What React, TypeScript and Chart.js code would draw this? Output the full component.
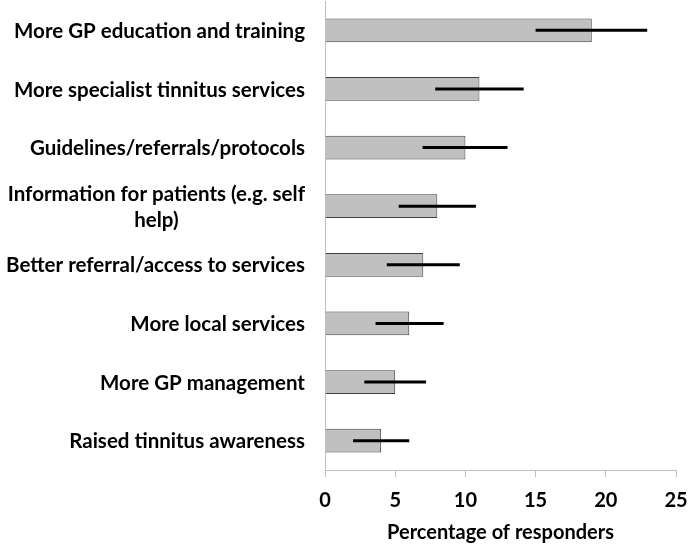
import React, { useEffect, useRef } from "react";
import { Chart, registerables } from "chart.js";

Chart.register(...registerables);

const categories: string[][] = [
  ["More GP education and training"],
  ["More specialist tinnitus services"],
  ["Guidelines/referrals/protocols"],
  ["Information for patients (e.g. self", "help)"],
  ["Better referral/access to services"],
  ["More local services"],
  ["More GP management"],
  ["Raised tinnitus awareness"],
];
const percentages: number[] = [19, 11, 10, 8, 7, 6, 5, 4];
const errorLow: number[] = [15.0, 7.85, 6.95, 5.25, 4.4, 3.6, 2.8, 2.0];
const errorHigh: number[] = [22.95, 14.15, 13.0, 10.75, 9.6, 8.45, 7.2, 6.0];
const xTicks: number[] = [0, 5, 10, 15, 20, 25];
const xTitle = "Percentage of responders";

const FONT = "Lato, 'Open Sans', sans-serif";

const errorBarPlugin = {
  id: "errorBars",
  afterDatasetsDraw(chart: any) {
    const meta = chart.getDatasetMeta(0);
    const xs = chart.scales.x;
    const ctx = chart.ctx;
    ctx.save();
    ctx.strokeStyle = "#000";
    ctx.lineWidth = 3;
    meta.data.forEach((bar: any, i: number) => {
      const x1 = xs.getPixelForValue(errorLow[i]);
      const x2 = xs.getPixelForValue(errorHigh[i]);
      ctx.beginPath();
      ctx.moveTo(x1, bar.y);
      ctx.lineTo(x2, bar.y);
      ctx.stroke();
    });
    ctx.restore();
  },
};

const categoryLabelPlugin = {
  id: "categoryLabels",
  afterDraw(chart: any) {
    const ys = chart.scales.y;
    const ctx = chart.ctx;
    const rightX = chart.chartArea.left - 20;
    const lineH = 25.5;
    ctx.save();
    ctx.font = `bold 20.5px ${FONT}`;
    ctx.fillStyle = "#000";
    ctx.textBaseline = "middle";
    categories.forEach((lines, i) => {
      const cy = ys.getPixelForValue(i);
      const firstW = ctx.measureText(lines[0]).width;
      const centerX = rightX - firstW / 2;
      lines.forEach((line, j) => {
        const y = cy + (j - (lines.length - 1) / 2) * lineH + 1;
        if (j === 0) {
          ctx.textAlign = "right";
          ctx.fillText(line, rightX, y);
        } else {
          ctx.textAlign = "center";
          ctx.fillText(line, centerX, y);
        }
      });
    });
    ctx.restore();
  },
};

export default function App() {
  const ref = useRef<HTMLCanvasElement>(null);
  useEffect(() => {
    document.body.style.margin = "0";
    const chart = new Chart(ref.current!, {
      type: "bar",
      data: {
        labels: categories.map((c) => c.join(" ")),
        datasets: [
          {
            data: percentages,
            backgroundColor: "#c0c0c0",
            borderColor: "#404040",
            borderWidth: 1,
            categoryPercentage: 1,
            barPercentage: 0.404,
          },
        ],
      },
      options: {
        indexAxis: "y",
        animation: false,
        responsive: false,
        maintainAspectRatio: false,
        layout: { padding: { top: 1, right: 12, bottom: 0, left: 0 } },
        plugins: { legend: { display: false }, tooltip: { enabled: false } },
        scales: {
          x: {
            min: 0,
            max: 25,
            afterBuildTicks: (s: any) => {
              s.ticks = xTicks.map((v) => ({ value: v }));
            },
            afterFit: (s: any) => {
              s.height = 75;
              s.paddingRight = 0;
              s.paddingLeft = 0;
            },
            grid: {
              drawOnChartArea: false,
              drawTicks: true,
              tickLength: 7,
              color: "#bfbfbf",
            },
            border: { display: true, color: "#bfbfbf", width: 1 },
            ticks: {
              color: "#000",
              padding: 12,
              font: { family: FONT, size: 20, weight: "bold" },
            },
            title: {
              display: true,
              text: xTitle,
              color: "#000",
              font: { family: FONT, size: 20, weight: "bold" },
              padding: { top: 0, bottom: 0 },
            },
          },
          y: {
            afterFit: (s: any) => {
              s.width = 325;
            },
            grid: { display: false, drawTicks: false },
            border: { display: true, color: "#bfbfbf", width: 1 },
            ticks: { display: false },
          },
        },
      },
      plugins: [errorBarPlugin, categoryLabelPlugin],
    });
    return () => chart.destroy();
  }, []);
  return (
    <div style={{ width: 688, height: 545 }}>
      <canvas ref={ref} width={688} height={545} style={{ width: 688, height: 545, display: "block" }} />
    </div>
  );
}
